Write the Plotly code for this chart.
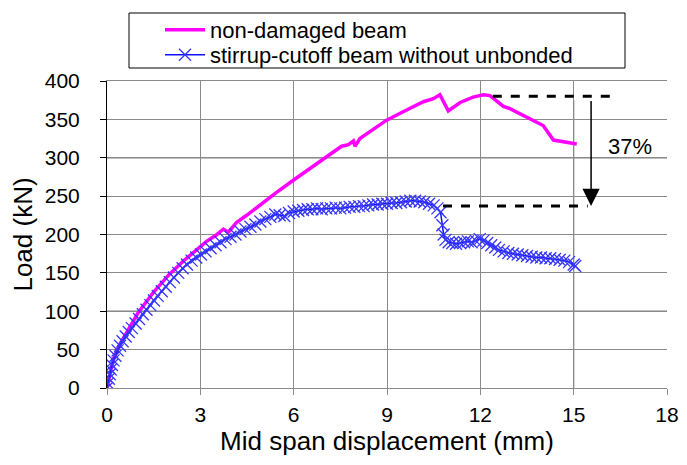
import plotly.graph_objects as go

# Non-damaged beam (magenta)
nd_x = [0, 0.1, 0.2, 0.4, 0.7, 1.0, 1.5, 2.0, 2.5, 3.0, 3.2, 3.5, 3.74, 3.9, 4.17, 4.49, 4.92,
        5.45, 6.0, 6.53, 7.06, 7.54, 7.76, 7.92, 7.97, 8.13, 8.45, 8.99, 9.52, 10.17, 10.49,
        10.7, 10.97, 11.35, 11.77, 12.1, 12.31, 12.74, 12.95, 13.49, 14.02, 14.35, 14.78, 15.1]
nd_y = [0, 20, 37, 56, 78, 98, 125, 148, 167, 184, 191, 199, 207, 203, 216, 225, 239,
        255, 271, 286, 301, 315, 317, 322, 315, 325, 334, 349, 360, 373, 377,
        382, 361, 372, 379, 382, 381, 367, 364, 353, 342, 323, 320, 318]

# Stirrup-cutoff beam without unbonded (blue)
sc_x = [0.00, 0.03, 0.06, 0.09, 0.12, 0.16, 0.21, 0.27, 0.34, 0.42, 0.50, 0.60, 0.70, 0.80, 0.92,
        1.03, 1.15, 1.27, 1.39, 1.51, 1.63, 1.76, 1.89, 2.02, 2.15, 2.29, 2.43, 2.57, 2.72, 2.87,
        3.02, 3.17, 3.33, 3.49, 3.65, 3.81, 3.97, 4.13, 4.29, 4.45, 4.61, 4.77, 4.93, 5.09, 5.25,
        5.41, 5.55, 5.70, 5.85, 6.00, 6.15, 6.30, 6.45, 6.60, 6.75, 6.90, 7.05, 7.20, 7.35, 7.50,
        7.65, 7.80, 7.95, 8.10, 8.25, 8.40, 8.55, 8.70, 8.85, 9.00, 9.15, 9.30, 9.45, 9.60, 9.75,
        9.90, 10.05, 10.20, 10.35, 10.50, 10.62, 10.72, 10.78, 10.82, 10.88, 10.98, 11.10, 11.22,
        11.35, 11.48, 11.60, 11.72, 11.85, 11.98, 12.10, 12.22, 12.35, 12.48, 12.60, 12.75, 12.90,
        13.05, 13.20, 13.35, 13.50, 13.65, 13.80, 13.95, 14.10, 14.25, 14.40, 14.55, 14.70, 14.85,
        15.00, 15.05]
sc_y = [0, 6, 12, 18, 24, 30, 36, 42, 49, 55, 61, 67, 73, 78, 84,
        90, 96, 102, 108, 114, 120, 126, 132, 138, 144, 150, 156, 161, 166, 170,
        174, 178, 182, 186, 190, 194, 197, 200, 204, 207, 210, 213, 217, 220, 223,
        226, 225, 224, 228, 230, 231, 232, 233, 233, 234, 233, 234, 234, 235, 234,
        235, 236, 236, 237, 237, 238, 239, 239, 240, 240, 241, 241, 242, 243, 244,
        244, 243, 242, 240, 238, 234, 229, 212, 200, 193, 190, 189, 188,
        189, 190, 191, 190, 192, 194, 192, 189, 186, 183, 180, 178, 176,
        175, 174, 173, 172, 171, 170, 170, 169, 169, 168, 167, 166, 164,
        161, 159]

x_ticks = [0, 3, 6, 9, 12, 15, 18]
y_ticks = [0, 50, 100, 150, 200, 250, 300, 350, 400]

peak_nd = 380
peak_sc = 237
pct_label = "37%"

FONT = "Liberation Sans, Arial, sans-serif"

fig = go.Figure()
fig.add_trace(go.Scatter(
    x=nd_x, y=nd_y, mode="lines", name="non-damaged beam", legend="legend",
    line=dict(color="#ff00ff", width=3.5)))
fig.add_trace(go.Scatter(
    x=sc_x, y=sc_y, mode="lines+markers", name="stirrup-cutoff beam without unbonded",
    legend="legend2",
    line=dict(color="#1010ff", width=1.5),
    marker=dict(symbol="x-thin", size=12, line=dict(color="#3535ff", width=1.3))))

# black grid lines (as in the scanned original)
for yv in [100, 300]:
    fig.add_shape(type="line", xref="x", yref="y", x0=0, x1=18, y0=yv, y1=yv,
                  line=dict(color="black", width=1), layer="below")
fig.add_shape(type="line", xref="x", yref="y", x0=15, x1=15, y0=0, y1=375,
              line=dict(color="black", width=1), layer="below")

# dashed reference lines
fig.add_shape(type="line", xref="x", yref="y", x0=12.4, x1=16.3, y0=peak_nd, y1=peak_nd,
              line=dict(color="black", width=3, dash="dash"))
fig.add_shape(type="line", xref="x", yref="y", x0=10.8, x1=15.45, y0=peak_sc, y1=peak_sc,
              line=dict(color="black", width=3, dash="dash"))
# arrow
fig.add_annotation(x=15.56, y=peak_sc, ax=15.56, ay=376, xref="x", yref="y",
                   axref="x", ayref="y", showarrow=True, arrowhead=2, arrowsize=2.3,
                   arrowwidth=1.5, arrowcolor="black", text="")
fig.add_annotation(x=16.8, y=315, xref="x", yref="y", text=pct_label, showarrow=False,
                   font=dict(size=22, color="black", family=FONT))

# legend frame
fig.add_shape(type="rect", xref="paper", yref="paper",
              x0=(129 - 107) / 560, x1=(625 - 107) / 560,
              y0=(388 - 68) / 307, y1=(388 - 13) / 307,
              line=dict(color="black", width=1), fillcolor="rgba(0,0,0,0)")

leg_common = dict(xanchor="left", yanchor="middle", bgcolor="rgba(0,0,0,0)",
                  borderwidth=0, itemwidth=40, font=dict(size=22, family=FONT))

fig.update_layout(
    width=679, height=457,
    margin=dict(l=99, r=20, t=73, b=77, autoexpand=False),
    paper_bgcolor="white", plot_bgcolor="white",
    font=dict(family=FONT, size=21, color="black"),
    showlegend=True,
    legend=dict(x=(160 - 107) / 560, y=(388 - 30) / 307, **leg_common),
    legend2=dict(x=(160 - 107) / 560, y=(388 - 55) / 307, **leg_common),
    xaxis=dict(range=[0, 18], tickvals=x_ticks, ticktext=[str(v) for v in x_ticks],
               showgrid=True, gridcolor="#8a8a8a", gridwidth=1, automargin=False,
               showline=True, linecolor="#8a8a8a", linewidth=1, mirror=True,
               ticks="outside", ticklen=6, tickcolor="#8a8a8a",
               zeroline=False, tickfont=dict(size=21), ticklabelstandoff=2,
               title=dict(text="Mid span displacement (mm)", font=dict(size=26), standoff=2)),
    yaxis=dict(range=[0, 400], tickvals=y_ticks, ticktext=[str(v) for v in y_ticks],
               showgrid=True, gridcolor="#8a8a8a", gridwidth=1, automargin=False,
               showline=True, linecolor="black", linewidth=1,
               ticks="outside", ticklen=6, tickcolor="black",
               zeroline=False, tickfont=dict(size=21), ticklabelstandoff=16,
               title=dict(text="Load (kN)", font=dict(size=26), standoff=6)),
)

fig.write_html("out.html")
